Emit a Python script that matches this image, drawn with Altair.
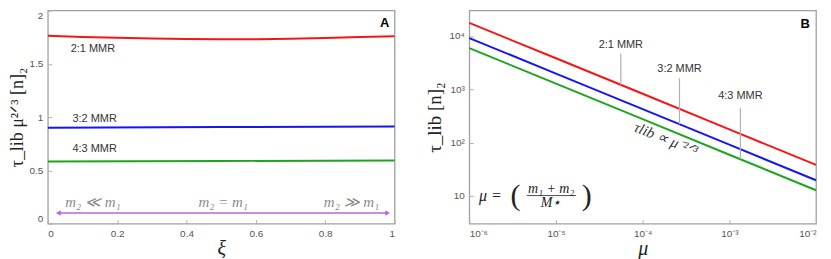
import altair as alt
import pandas as pd

# ---------------- Panel A data ----------------
xi = [0.0, 0.1, 0.2, 0.3, 0.4, 0.5, 0.6, 0.7, 0.8, 0.9, 1.0]
red_A = [1.762, 1.752, 1.743, 1.736, 1.732, 1.730, 1.731, 1.735, 1.742, 1.750, 1.758]
xi_flat = [0.0, 0.5, 1.0]
blue_A = [0.900, 0.906, 0.912]
green_A = [0.583, 0.588, 0.593]

labels_A = ["2:1 MMR", "3:2 MMR", "4:3 MMR"]
labels_A_x = [0.13, 0.135, 0.135]
labels_A_y = [1.637, 0.986, 0.698]

arrow_x = [0.03, 0.98]
arrow_y = 0.1
mass_text = ["m₂ ≪ m₁", "m₂ = m₁", "m₂ ≫ m₁"]
mass_x = [0.13, 0.506, 0.876]
mass_y = 0.2

xticks_A = [0, 0.2, 0.4, 0.6, 0.8, 1]
yticks_A = [0, 0.5, 1, 1.5, 2]

# ---------------- Panel B data ----------------
mu = [1e-6, 1e-5, 1e-4, 1e-3, 1e-2]
red_B = [17500, 3800, 820, 176, 38]
blue_B = [9100, 1960, 422, 91, 19.6]
green_B = [5900, 1270, 274, 59, 12.7]

lead_mu = [5.6e-5, 2.66e-4, 1.34e-3]
lead_top = [4600, 1600, 445]
lead_bot = [1200, 220, 49]
lead_text_tau = [6800, 2350, 740]
labels_B = ["2:1 MMR", "3:2 MMR", "4:3 MMR"]

xticks_B = [1e-6, 1e-5, 1e-4, 1e-3, 1e-2]
xlabels_B = ["10⁻⁶", "10⁻⁵", "10⁻⁴", "10⁻³", "10⁻²"]
yticks_B = [10, 100, 1000, 10000]
ylabels_B = ["10", "10²", "10³", "10⁴"]

series = ["2:1", "3:2", "4:3"]
colors = ["#f51515", "#1515f0", "#1ea51e"]

SANS = "Liberation Sans"
SERIF = "Liberation Serif"
W, H = 348, 214

color_scale = alt.Scale(domain=series, range=colors)

# ---------- Panel A ----------
dfA = pd.concat([
    pd.DataFrame({"xi": xi, "v": red_A, "s": series[0]}),
    pd.DataFrame({"xi": xi_flat, "v": blue_A, "s": series[1]}),
    pd.DataFrame({"xi": xi_flat, "v": green_A, "s": series[2]}),
])

xA = alt.X("xi:Q", scale=alt.Scale(domain=[0, 1], nice=False),
           axis=alt.Axis(values=xticks_A, labelExpr="'' + datum.value", title="ξ",
                         titleFont=SERIF, titleFontStyle="italic", titleFontSize=20,
                         titleFontWeight="normal", titlePadding=0))
yA = alt.Y("v:Q", scale=alt.Scale(domain=[0, 2], nice=False),
           axis=alt.Axis(values=yticks_A, labelExpr="'' + datum.value", labelFlush=True,
                         title="τ_lib μ²ᐟ³ [n]₂", titleFont=SERIF, titleFontSize=18,
                         titleFontWeight="normal", titlePadding=3))

linesA = alt.Chart(dfA).mark_line(strokeWidth=2).encode(
    x=xA, y=yA, color=alt.Color("s:N", scale=color_scale, legend=None))

labA = alt.Chart(pd.DataFrame({"x": labels_A_x, "y": labels_A_y, "t": labels_A})).mark_text(
    font=SANS, fontSize=11, color="#333", align="center", baseline="middle"
).encode(x="x:Q", y="y:Q", text="t:N")

arrowA = alt.Chart(pd.DataFrame({"x": [arrow_x[0]], "x2": [arrow_x[1]], "y": [arrow_y]})).mark_rule(
    color="#b468e0", strokeWidth=1.5).encode(x="x:Q", x2="x2:Q", y="y:Q")
headsA = alt.Chart(pd.DataFrame({"x": arrow_x, "y": [arrow_y, arrow_y],
                                 "sh": ["triangle-left", "triangle-right"]})).mark_point(
    filled=True, color="#b468e0", size=30, opacity=1).encode(
    x="x:Q", y="y:Q", shape=alt.Shape("sh:N", scale=None))

massA = alt.Chart(pd.DataFrame({"x": mass_x, "y": [mass_y] * 3, "t": mass_text})).mark_text(
    font=SERIF, fontStyle="italic", fontSize=15, color="#8a8a8a", align="center", baseline="middle"
).encode(x="x:Q", y="y:Q", text="t:N")

tagA = alt.Chart(pd.DataFrame({"x": [0.985], "y": [1.885], "t": ["A"]})).mark_text(
    font=SANS, fontWeight="bold", fontSize=13, color="#000", align="right", baseline="middle"
).encode(x="x:Q", y="y:Q", text="t:N")

panelA = alt.layer(linesA, arrowA, headsA, labA, massA, tagA).properties(width=W, height=H)

# ---------- Panel B ----------
dfB = pd.concat([
    pd.DataFrame({"mu": mu, "v": red_B, "s": series[0]}),
    pd.DataFrame({"mu": mu, "v": blue_B, "s": series[1]}),
    pd.DataFrame({"mu": mu, "v": green_B, "s": series[2]}),
])

def label_expr(vals, labs):
    expr = "''"
    for v, l in zip(reversed(vals), reversed(labs)):
        expr = f"abs(log(datum.value) - log({v})) < 0.01 ? '{l}' : ({expr})"
    return expr

xB = alt.X("mu:Q", scale=alt.Scale(type="log", domain=[1e-6, 1e-2], nice=False),
           axis=alt.Axis(values=xticks_B, labelExpr=label_expr(xticks_B, xlabels_B), title="μ",
                         titleFont=SERIF, titleFontStyle="italic", titleFontSize=20,
                         titleFontWeight="normal", titlePadding=0))
yB = alt.Y("v:Q", scale=alt.Scale(type="log", domain=[3, 30000], nice=False),
           axis=alt.Axis(values=yticks_B, labelExpr=label_expr(yticks_B, ylabels_B),
                         title="τ_lib [n]₂", titleFont=SERIF, titleFontSize=19,
                         titleFontWeight="normal", titlePadding=4))

linesB = alt.Chart(dfB).mark_line(strokeWidth=2).encode(
    x=xB, y=yB, color=alt.Color("s:N", scale=color_scale, legend=None))

leadB = alt.Chart(pd.DataFrame({"x": lead_mu, "y": lead_top, "y2": lead_bot})).mark_rule(
    color="#b0b0b0", strokeWidth=1.2).encode(x="x:Q", y="y:Q", y2="y2:Q")
labB = alt.Chart(pd.DataFrame({"x": lead_mu, "y": lead_text_tau, "t": labels_B})).mark_text(
    font=SANS, fontSize=11, color="#333", align="center", baseline="middle"
).encode(x="x:Q", y="y:Q", text="t:N")

propB = alt.Chart(pd.DataFrame({"x": [1.85e-4], "y": [117], "t": ["τlib ∝ μ⁻²ᐟ³"]})).mark_text(
    font=SERIF, fontStyle="italic", fontSize=15, color="#333", align="center", baseline="middle",
    angle=22).encode(x="x:Q", y="y:Q", text="t:N")

tagB = alt.Chart(pd.DataFrame({"x": [0.0085], "y": [17000], "t": ["B"]})).mark_text(
    font=SANS, fontWeight="bold", fontSize=13, color="#000", align="right", baseline="middle"
).encode(x="x:Q", y="y:Q", text="t:N")

# formula mu = ((m1+m2)/M*)
fi_text = ["μ =", "m₁ + m₂", "M⋆"]
fi_x = [1.75e-6, 8.8e-6, 8.8e-6]
fi_y = [10, 13.2, 7.3]
fi_size = [16, 14, 14]
fp_text = ["(", ")"]
fp_x = [3.4e-6, 2.27e-5]
fp_y = [10, 10]

formula_it = alt.Chart(pd.DataFrame({"x": fi_x, "y": fi_y, "t": fi_text, "fs": fi_size})).mark_text(
    font=SERIF, fontStyle="italic", color="#222", align="center", baseline="middle"
).encode(x="x:Q", y="y:Q", text="t:N", size=alt.Size("fs:Q", scale=None))
formula_par = alt.Chart(pd.DataFrame({"x": fp_x, "y": fp_y, "t": fp_text})).mark_text(
    font=SERIF, fontSize=30, fontWeight=100, color="#222", align="center", baseline="middle"
).encode(x="x:Q", y="y:Q", text="t:N")
fbar = alt.Chart(pd.DataFrame({"x": [4.6e-6], "x2": [1.7e-5], "y": [10.1]})).mark_rule(
    color="#222", strokeWidth=0.8).encode(x="x:Q", x2="x2:Q", y="y:Q")

panelB = alt.layer(linesB, leadB, labB, propB, tagB, formula_it, formula_par, fbar).properties(
    width=W, height=H)

chart = alt.hconcat(panelA, panelB, spacing=75, bounds="flush").properties(
    padding={"left": -1, "top": 0, "right": 2, "bottom": 0}
).configure_view(stroke="#a0a0a0", strokeWidth=1.3).configure_axis(
    domain=False, grid=False, ticks=True, tickSize=4, offset=-4, tickColor="#b0b0b0",
    tickWidth=1, labelFont=SANS, labelFontSize=10,
    labelColor="#555", labelPadding=5, titleColor="#222"
)

chart.save("out.html", embed_options={"renderer": "svg", "actions": False})
